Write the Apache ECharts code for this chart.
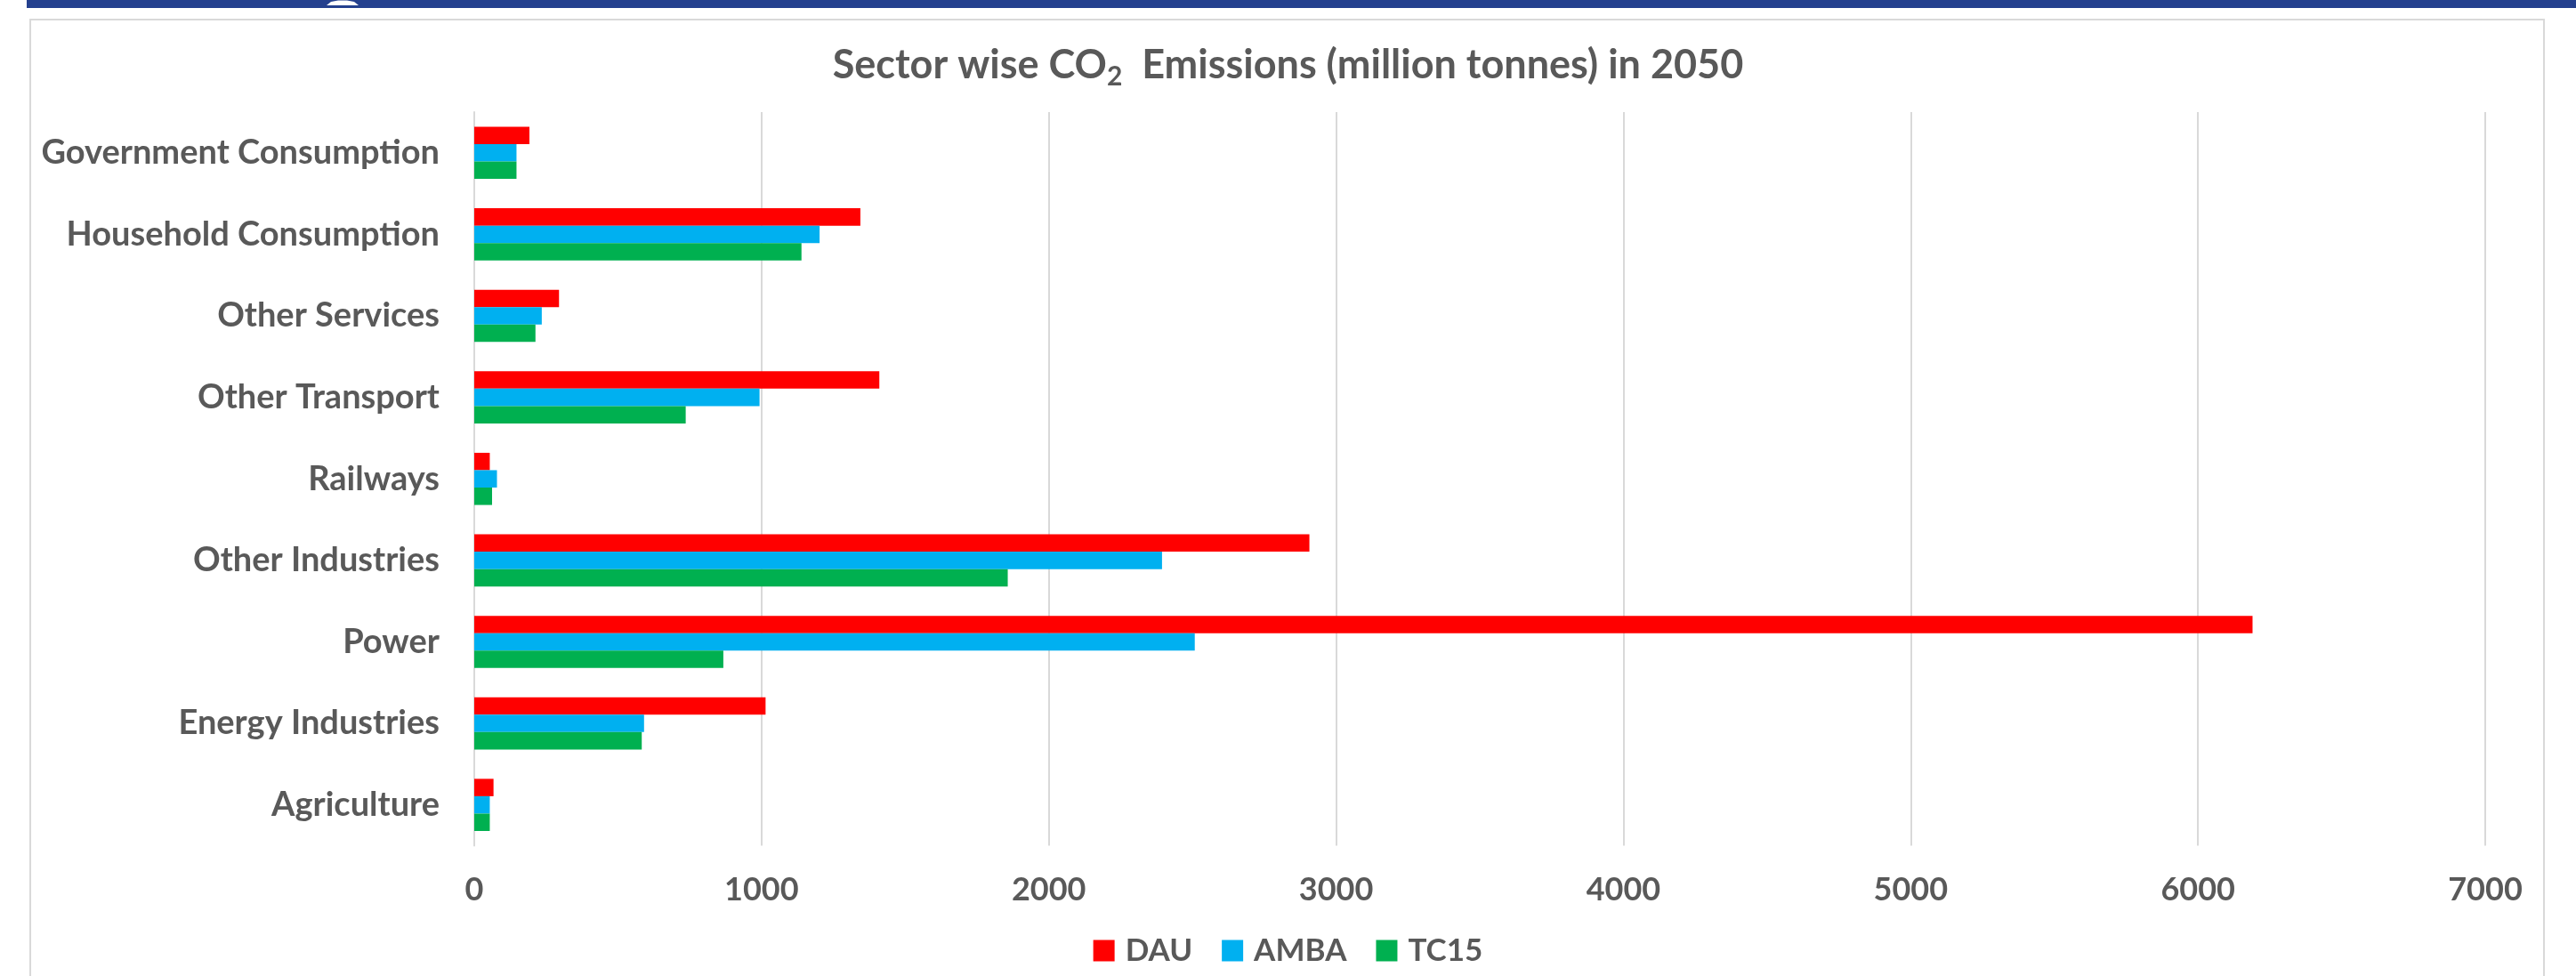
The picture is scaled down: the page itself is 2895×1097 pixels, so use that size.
<!DOCTYPE html>
<html>
<head>
<meta charset="utf-8">
<title>Sector wise CO2 Emissions in 2050</title>
<script src="https://cdn.jsdelivr.net/npm/echarts@6/dist/echarts.min.js"></script>
<style>
  html, body { margin: 0; padding: 0; background: #ffffff; }
  #chart { width: 2895px; height: 1097px; }
</style>
</head>
<body>
<div id="chart"></div>
<script>
// Sectors, listed top to bottom as they appear on the chart
const sectors = [
  'Government Consumption',
  'Household Consumption',
  'Other Services',
  'Other Transport',
  'Railways',
  'Other Industries',
  'Power',
  'Energy Industries',
  'Agriculture'
];

// CO2 emissions in 2050 (million tonnes) per scenario
const dauValues  = [192, 1344, 295, 1410, 54, 2907, 6190, 1014, 67];
const ambaValues = [147, 1202, 235,  993, 79, 2394, 2508,  591, 54];
const tc15Values = [147, 1139, 213,  736, 62, 1857,  867,  583, 54];

const seriesNames = ['DAU', 'AMBA', 'TC15'];
const seriesColors = ['#FF0000', '#00B0F0', '#00B050'];

// Value axis ticks
const xMin = 0;
const xMax = 7000;
const xStep = 1000;

const TEXT = '#595959';
const GRID = '#D9D9D9';
const FONT = 'Lato, "Open Sans", sans-serif';

const chart = echarts.init(document.getElementById('chart'), null, { renderer: 'canvas' });

const seriesData = [dauValues, ambaValues, tc15Values];

chart.setOption({
  backgroundColor: '#ffffff',
  animation: false,
  title: {
    left: 'center',
    top: 40,
    text: '{m|Sector wise CO}{s|2}{m|  Emissions (million tonnes) in 2050}',
    textStyle: {
      rich: {
        m: { fontFamily: FONT, fontWeight: 'bold', fontSize: 45, color: TEXT, lineHeight: 56, verticalAlign: 'middle' },
        s: { fontFamily: FONT, fontWeight: 'bold', fontSize: 30, color: TEXT, verticalAlign: 'bottom' }
      }
    }
  },
  legend: {
    data: seriesNames,
    left: 'center',
    top: 1046,
    icon: 'rect',
    itemWidth: 24,
    itemHeight: 24,
    itemGap: 33,
    textStyle: { fontFamily: FONT, fontWeight: 'bold', fontSize: 35, color: TEXT, padding: [0, 0, 0, 7] }
  },
  grid: { left: 533, right: 102, top: 126, bottom: 146.5, containLabel: false },
  xAxis: {
    type: 'value',
    min: xMin,
    max: xMax,
    interval: xStep,
    axisLine: { show: false },
    axisTick: { show: false },
    splitLine: { show: true, lineStyle: { color: GRID, width: 2 } },
    axisLabel: {
      fontFamily: FONT, fontWeight: 'bold', fontSize: 36, color: TEXT, margin: 32,
      formatter: (v) => String(v)
    }
  },
  yAxis: {
    type: 'category',
    data: sectors,
    inverse: true,
    axisLine: { show: true, lineStyle: { color: GRID, width: 2 } },
    axisTick: { show: false },
    axisLabel: { fontFamily: FONT, fontWeight: 'bold', fontSize: 38, color: TEXT, margin: 39 }
  },
  series: seriesNames.map((name, i) => ({
    name: name,
    type: 'bar',
    data: seriesData[i],
    barGap: '0%',
    barCategoryGap: '36%',
    itemStyle: { color: seriesColors[i] }
  })),
  graphic: [
    // header band across the top
    { type: 'rect', left: 30, top: 0, shape: { width: 2865, height: 9 }, style: { fill: '#24408E' }, silent: true },
    { type: 'polygon', shape: { points: [[367, 6], [372, 2], [380, 0.5], [390, 0.5], [398, 2], [403, 6]] }, style: { fill: '#ffffff' }, silent: true },
    // chart frame
    { type: 'rect', shape: { x: 34, y: 22, width: 2825, height: 1100 }, style: { fill: 'none', stroke: GRID, lineWidth: 2 }, silent: true, z: -1 }
  ]
});
</script>
</body>
</html>
